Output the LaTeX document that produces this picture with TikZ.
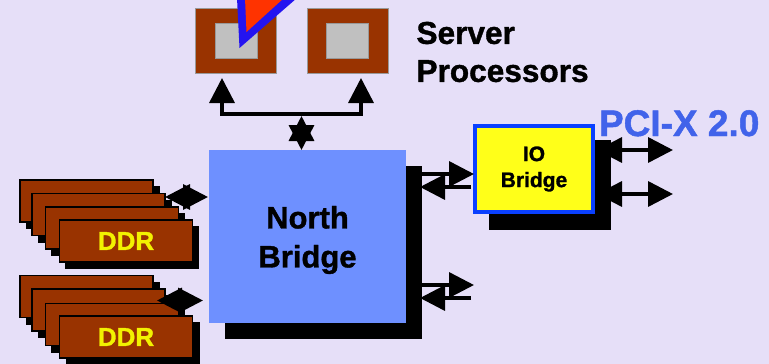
\documentclass[tikz,border=0pt]{standalone}
\usepackage{fontspec}
\setmainfont[BoldFeatures={FakeBold=1.2}]{Liberation Sans}
\usetikzlibrary{arrows.meta}
\definecolor{bgcol}{HTML}{E6DFF8}
\definecolor{brickcol}{HTML}{993300}
\definecolor{chipcol}{HTML}{C0C0C0}
\definecolor{nbcol}{HTML}{6E90FF}
\definecolor{iocol}{HTML}{FFFF19}
\definecolor{ioedge}{HTML}{0A40FF}
\definecolor{pcicol}{HTML}{4163EA}
\definecolor{ddrtext}{HTML}{F2F200}
\definecolor{calloutedge}{HTML}{2414F0}
\definecolor{calloutfill}{HTML}{FF3300}

\begin{document}
\begin{tikzpicture}[x=1pt,y=-1pt,
    box/.style={rectangle,inner sep=0pt,outer sep=0pt,font=\bfseries},
    shade/.style={box,fill=black},
    cpu/.style={box,fill=brickcol,draw=black!40,line width=1pt,minimum width=81pt,minimum height=65pt},
    chip/.style={box,fill=chipcol,draw=black!40,line width=1pt,minimum width=42pt,minimum height=35pt},
    card/.style={box,fill=brickcol,draw=black,line width=1.3pt,minimum width=133pt,minimum height=42pt,font=\bfseries\fontsize{26}{26}\selectfont,text=ddrtext},
    link/.style={line width=3.5pt,{Triangle[length=25pt,width=25pt]}-{Triangle[length=25pt,width=25pt]}},
    onelink/.style={line width=3.5pt,-{Triangle[length=25pt,width=25pt]}}
    ]
    \fill[bgcol] (0,0) rectangle (769,364);
    \useasboundingbox (0,0) rectangle (769,364);

    \node[cpu] (cpuA) at (236,40.5) {};
    \node[chip] (chipA) at (236,40.5) {};
    \node[cpu] (cpuB) at (347.5,40.5) {};
    \node[chip] (chipB) at (347.5,40.5) {};
    \begin{scope}
    \clip (0,0) rectangle (769,364);
    \fill[calloutedge] (237,-2) -- (239.5,48) -- (297,-2) -- cycle;
    \fill[calloutfill] (245,-2) -- (246.5,32) -- (284,-2) -- cycle;
    \end{scope}
    \node[box,anchor=west,align=left,font=\bfseries\fontsize{31.6}{38}\selectfont] (cpulabel) at (416.5,52) {Server\\Processors};

    \node[shade,minimum width=197pt,minimum height=173pt] (nbshade) at (323.5,252.5) {};
    \node[box,fill=nbcol,minimum width=197pt,minimum height=173pt] (nb) at (307.5,236.5) {};
    \node[box,align=center,font=\bfseries\fontsize{31}{39}\selectfont] (nblabel) at (307.5,240) {North\\Bridge};

    \node[shade,minimum width=122pt,minimum height=90pt] (ioshade) at (550,185) {};
    \node[box,fill=iocol,draw=ioedge,line width=4pt,minimum width=118pt,minimum height=86pt,align=center,font=\bfseries\fontsize{21}{26}\selectfont] (io) at (534,169) {IO\\Bridge};
    \node[box,anchor=base west,text=pcicol,font=\bfseries\fontsize{37}{37}\selectfont] (pcix) at (599,136) {PCI-X 2.0};

    \foreach \i/\cx/\cy/\dy in {1/86.5/201/95.5,2/98.5/214.5/95.5,3/112/228/96.5}{
      \node[shade,minimum width=134pt,minimum height=43pt] (upshade\i) at (\cx+6,\cy+6.5) {};
      \node[card] (upcard\i) at (\cx,\cy) {};
      \node[shade,minimum width=134pt,minimum height=43pt] (lowshade\i) at (\cx+6,\cy+\dy+6.5) {};
      \node[card] (lowcard\i) at (\cx,\cy+\dy) {};
    }
    \node[shade,minimum width=134pt,minimum height=43pt] (upshade4) at (132,247.5) {};
    \node[card] (upcard4) at (126,241) {\raisebox{-4pt}{DDR}};
    \node[shade,minimum width=134pt,minimum height=43pt] (lowshade4) at (133,343.5) {};
    \node[card] (lowcard4) at (126,337) {\raisebox{-4pt}{DDR}};

    \coordinate (busA) at (222,78);
    \coordinate (busB) at (361,78);
    \coordinate (busmid) at (301.5,114);
    \coordinate (bustop) at (301.5,116);
    \coordinate (memupA) at (165,197);
    \coordinate (memlowA) at (157,300.5);
    \coordinate (nbupout) at (422,174);
    \coordinate (nbupin) at (420,187);
    \coordinate (ioupin) at (471,187);
    \coordinate (iouptip) at (474,174);
    \coordinate (nblowout) at (422,285);
    \coordinate (nblowin) at (420,298);
    \coordinate (freeA) at (474,285);
    \coordinate (freeB) at (471,298);
    \coordinate (ioA) at (597,150);
    \coordinate (pciA) at (673,150);
    \coordinate (ioB) at (597,194);
    \coordinate (pciB) at (673,194);
    \coordinate (memupB) at (208,197);
    \coordinate (memlowB) at (203,300.5);
    \coordinate (nbtop) at (301.5,150);

    \draw[link] (busA) |- (busmid) -| (busB);
    \draw[link] (bustop) -- (nbtop);
    \draw[link] (memupA) -- (memupB);
    \draw[link] (memlowA) -- (memlowB);
    \draw[onelink] (nbupout) -- (iouptip);
    \draw[onelink] (ioupin) -- (nbupin);
    \draw[onelink] (nblowout) -- (freeA);
    \draw[onelink] (freeB) -- (nblowin);
    \draw[link] (ioA) -- (pciA);
    \draw[link] (ioB) -- (pciB);
\end{tikzpicture}
\end{document}
